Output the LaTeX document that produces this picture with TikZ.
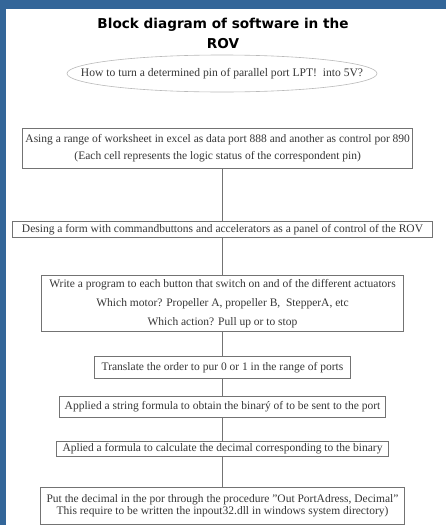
\documentclass[tikz,border=0pt]{standalone}
\usepackage{fontspec}
\setmainfont{Liberation Serif}
\newfontfamily\titlefont{DejaVu Sans}
\usetikzlibrary{positioning}
\usetikzlibrary{calc}
\definecolor{frameblue}{RGB}{51,102,153}
\definecolor{boxgray}{RGB}{115,115,115}
\definecolor{textgray}{RGB}{55,55,55}

\begin{document}
\begin{tikzpicture}[x=1pt,y=-1pt,
		block/.style={rectangle, draw=boxgray, line width=0.8pt, outer sep=0pt, text=textgray, align=center, inner xsep=1pt, inner ysep=0.5pt, font=\fontsize{11.5}{13}\selectfont},
		question/.style={text=textgray, align=center, font=\fontsize{11.6}{13}\selectfont},
		link/.style={draw=boxgray, line width=0.8pt}
	]
		% frame
		\useasboundingbox (0,0) rectangle (446,525);
		\fill[frameblue] (0,0) rectangle (446,525);
		\fill[white] (6,9) rectangle (446,525);

		\node[font=\titlefont\bfseries\fontsize{13.6}{20}\selectfont, align=center] (title) at (223,33) {Block diagram of software in the\\ROV};
		\node[question] (q) at (222,73.5) {How to turn a determined pin of parallel port LPT!\ \ into 5V?};
		\draw[gray!55, line width=0.6pt] (q.center) ellipse [x radius=155, y radius=18.5];

		\node[block, minimum width=390, minimum height=40, font=\fontsize{11.5}{17.7}\selectfont] (worksheet) at (217.7,148.3) {Asing a range of worksheet in excel as data port 888 and another as control por 890\\(Each cell represents the logic status of the correspondent pin)};
		\node[block, minimum width=420.4, minimum height=15.6, below=53.4pt of worksheet, xshift=4.8pt] (form) {Desing a form with commandbuttons and accelerators as a panel of control of the ROV};
		\node[block, minimum width=362.6, minimum height=55.3, below=38.4pt of form, font=\fontsize{11.5}{19}\selectfont] (program) {Write a program to each button that switch on and of the different actuators\\Which motor? Propeller A, propeller B,\ \ StepperA, etc\\Which action? Pull up or to stop};
		\node[block, minimum width=256.4, minimum height=21.6, below=25.7pt of program] (translate) {Translate the order to pur 0 or 1 in the range of ports};
		\node[block, minimum width=326.7, minimum height=21.3, below=17.7pt of translate] (binary) {Applied a string formula to obtain the binar\'y of to be sent to the port};
		\node[block, minimum width=331.7, minimum height=15, below=23.7pt of binary] (decimal) {Aplied a formula to calculate the decimal corresponding to the binary};
		\node[block, minimum width=363.3, minimum height=36.7, below=31.3pt of decimal, font=\fontsize{11.5}{11.7}\selectfont] (output) {Put the decimal\ in the por through the procedure "Out PortAdress, Decimal"\\This require to be written the inpout32.dll in windows system directory)};

		\draw[link] (form.north) -- (form.north |- worksheet.south);
		\draw[link] (form.south) -- (program.north);
		\draw[link] (program.south) -- (translate.north);
		\draw[link] (translate.south) -- (binary.north);
		\draw[link] (binary.south) -- (decimal.north);
		\draw[link] (decimal.south) -- (output.north);
	\end{tikzpicture}
\end{document}
